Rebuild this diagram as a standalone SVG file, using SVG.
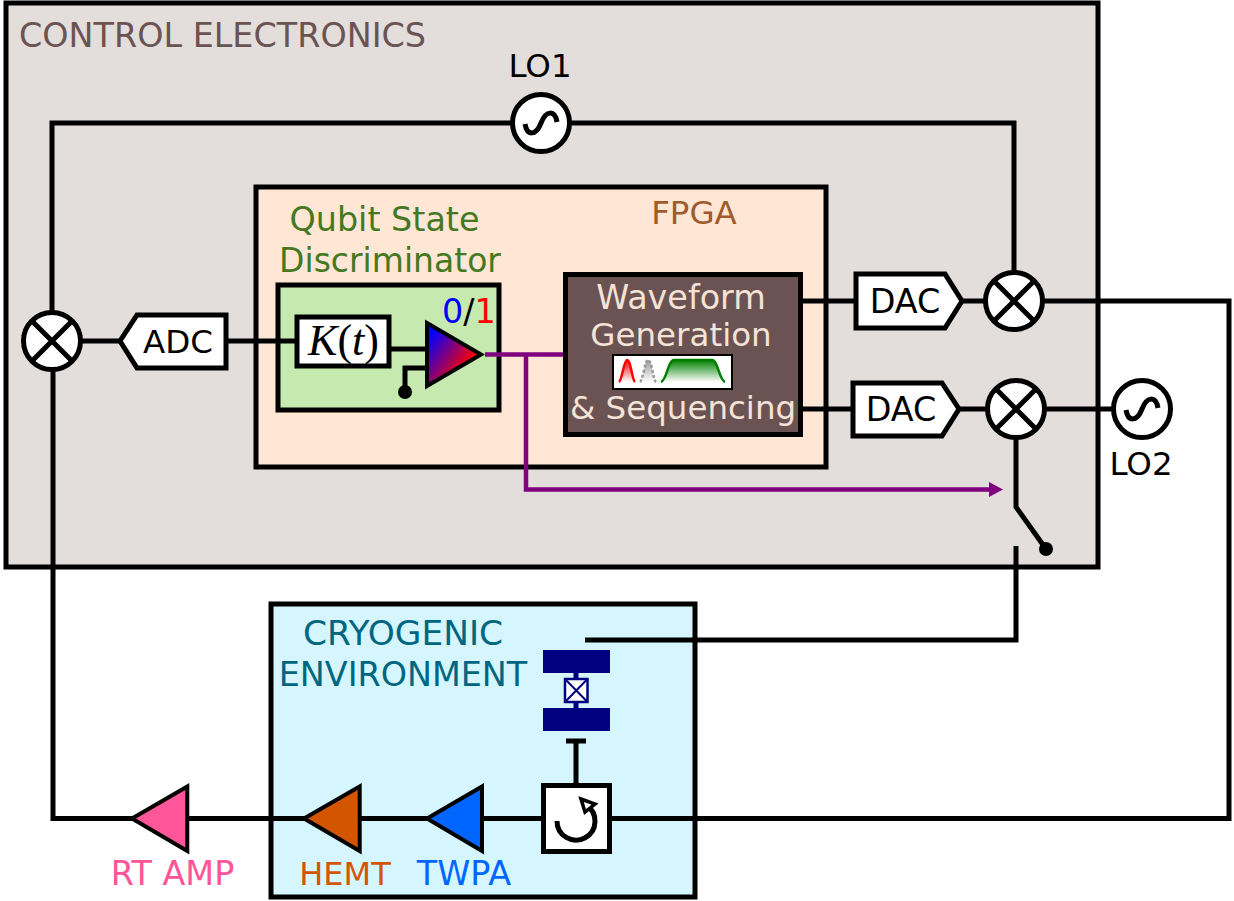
<svg xmlns="http://www.w3.org/2000/svg" width="1234" height="901" viewBox="0 0 1234 901">
<style>
text{font-family:"DejaVu Sans",Verdana,sans-serif;font-size:33.400px;text-anchor:middle}
.s{text-anchor:start}
.m{font-size:32.500px}
.w{fill:none;stroke:#000;stroke-width:5}
.b{stroke:#000;stroke-width:5}
.t{stroke:#000;stroke-width:4}
.p{fill:none;stroke:#800080;stroke-width:4.500}
.wh{fill:#fff;stroke:#000;stroke-width:5}
text.k{font-family:"Liberation Serif",serif;font-size:44px}
</style>
<defs>
<linearGradient id="g1" x1="0.1" y1="0.15" x2="0.75" y2="0.7"><stop offset="0" stop-color="#0000ff"/><stop offset="1" stop-color="#ff0000"/></linearGradient>
<linearGradient id="gr" x1="0" y1="0" x2="0" y2="1"><stop offset="0" stop-color="#ff0000"/><stop offset="1" stop-color="#ff0000" stop-opacity="0"/></linearGradient>
<linearGradient id="gy" x1="0" y1="0" x2="0" y2="1"><stop offset="0" stop-color="#999"/><stop offset="1" stop-color="#999" stop-opacity="0"/></linearGradient>
<linearGradient id="gg" x1="0" y1="0" x2="0" y2="1"><stop offset="0" stop-color="#008000"/><stop offset="1" stop-color="#008000" stop-opacity="0"/></linearGradient>
<g id="mix"><circle r="28.500" class="wh"/><path d="M-20-20L20 20M-20 20L20-20" class="w"/></g>
<g id="lo"><circle r="28.500" class="wh"/><path d="M-16 1C-14 13-5 13 0 0S14-13 16-1" class="w"/></g>
</defs>

<g id="control-box"><rect x="6" y="3" width="1092" height="564" fill="#e3dedb" class="b"/><text x="19" y="47" class="s" fill="#6c5353">CONTROL ELECTRONICS</text></g>
<g id="cryo-box"><rect x="271" y="604" width="424" height="293" fill="#d5f6ff" class="b"/><text x="403" y="645" fill="#006680" style="font-size:34.400px">CRYOGENIC</text><text x="403" y="686" fill="#006680">ENVIRONMENT</text></g>
<g id="fpga-box"><rect x="256" y="187" width="570" height="280" fill="#ffe6d5" class="b"/><text x="694" y="224" fill="#a05a2c" class="m">FPGA</text></g>
<g id="discriminator-box">
<text x="384.500" y="231" fill="#447821">Qubit State</text>
<text x="390" y="272" fill="#447821" style="font-size:33px">Discriminator</text>
<rect x="278" y="285" width="221" height="125" fill="#c6e9af" class="b"/>
</g>

<g id="connectors">
<path d="M52 340V123H1014V300M1041 301H1229V818.500H131M53 370V818.500H131" class="w"/>
<path d="M80 341H120M226 341H296M391 349H428M428 368H405V392M802 301H856M962 301H985M802 409H853M960 409H988M1045 409H1113M1016 438V507L1046 549M1016 546V640H585M576 741V785" class="w"/>
<circle cx="405" cy="392" r="7"/><circle cx="1046" cy="549" r="7"/>
<path d="M485 354.500H564M526 354.500V489.500H992" class="p"/>
<path d="M989 482L1003 489.500L989 497Z" fill="#800080"/>
</g>

<g id="lo1"><use href="#lo" x="541" y="123"/><text x="540" y="77" class="m">LO1</text></g>
<g id="lo2"><use href="#lo" x="1142" y="409"/><text x="1141" y="475" class="m">LO2</text></g>
<g id="mixer-adc"><use href="#mix" x="52" y="341"/></g>
<g id="mixer-dac1"><use href="#mix" x="1014" y="301"/></g>
<g id="mixer-dac2"><use href="#mix" x="1016" y="409"/></g>

<g id="adc"><path d="M226 315H137L120 341L137 368H226Z" class="wh"/><text x="178" y="353" class="m">ADC</text></g>
<g id="dac1"><path d="M856 274H945L962 301L945 328H856Z" class="wh"/><text x="905" y="313">DAC</text></g>
<g id="dac2"><path d="M853 383H942L959 409L942 436H853Z" class="wh"/><text x="901" y="421">DAC</text></g>

<g id="kernel">
<rect x="297" y="317" width="92" height="49" class="wh"/>
<text x="343.500" y="355" class="k"><tspan font-style="italic">K</tspan>(<tspan font-style="italic">t</tspan>)</text>
</g>
<g id="comparator">
<path d="M427 323L481 354.500L427 386Z" fill="url(#g1)" class="t"/>
<text x="442" y="323" class="s"><tspan fill="#00f">0</tspan><tspan fill="#000">/</tspan><tspan fill="#f00">1</tspan></text>
</g>

<g id="waveform">
<rect x="565.500" y="274.500" width="235" height="160" fill="#6c5353" class="b"/>
<text x="681" y="308.500" fill="#f4e3d7">Waveform</text>
<text x="681" y="345.500" fill="#f4e3d7" class="m">Generation</text>
<text x="683" y="418.500" fill="#f4e3d7" class="m">&amp; Sequencing</text>
<rect x="613" y="355" width="119" height="34" fill="#fff" stroke="#000" stroke-width="2"/>
<path d="M619 382C622 380 624 360 627 360C631 360 632 380 635 382Z" fill="url(#gr)"/>
<path d="M619 382C622 380 624 360 627 360C631 360 632 380 635 382" fill="none" stroke="#f00" stroke-width="2.500"/>
<path d="M640 382C643 380 645 360 648 360C652 360 653 380 656 382Z" fill="url(#gy)"/>
<path d="M640 382C643 380 645 360 648 360C652 360 653 380 656 382" fill="none" stroke="#999" stroke-width="2.500" stroke-dasharray="3 2"/>
<path d="M661 382C667 380 668 360 674 360H712C718 360 719 380 725 382Z" fill="url(#gg)"/>
<path d="M661 382C667 380 668 360 674 360H712C718 360 719 380 725 382" fill="none" stroke="#008000" stroke-width="2.500"/>
</g>

<g id="qubit">
<rect x="543" y="650" width="67" height="23" fill="#000080"/>
<rect x="543" y="708" width="67" height="23" fill="#000080"/>
<path d="M576 673V708" stroke="#000080" stroke-width="5"/>
<rect x="565" y="679" width="22.500" height="23" fill="#fff" stroke="#000080" stroke-width="2.500"/>
<path d="M565 679L587.500 702M587.500 679L565 702" stroke="#000080" stroke-width="2"/>
</g>

<g id="circulator">
<path d="M566 741H586" class="w"/>
<rect x="543.500" y="785.500" width="66" height="66" class="wh"/>
<path d="M557 821A19 19 0 1 0 586 805" class="w"/>
<path d="M581 799L595 804L585 812Z" fill="#fff" stroke="#000" stroke-width="3.500"/>
</g>

<g id="twpa"><path d="M482 786.500V851L427 818.500Z" fill="#0066ff" class="t"/><text x="464" y="885" fill="#0066ff">TWPA</text></g>
<g id="hemt"><path d="M359.700 786.500V851L304 818.500Z" fill="#d45500" class="t"/><text x="345" y="885" fill="#d45500" style="font-size:32px">HEMT</text></g>
<g id="rtamp"><path d="M187.300 786.500V851L132 818.500Z" fill="#ff5599" class="t"/><text x="172.500" y="885" fill="#ff5599">RT AMP</text></g>
</svg>
